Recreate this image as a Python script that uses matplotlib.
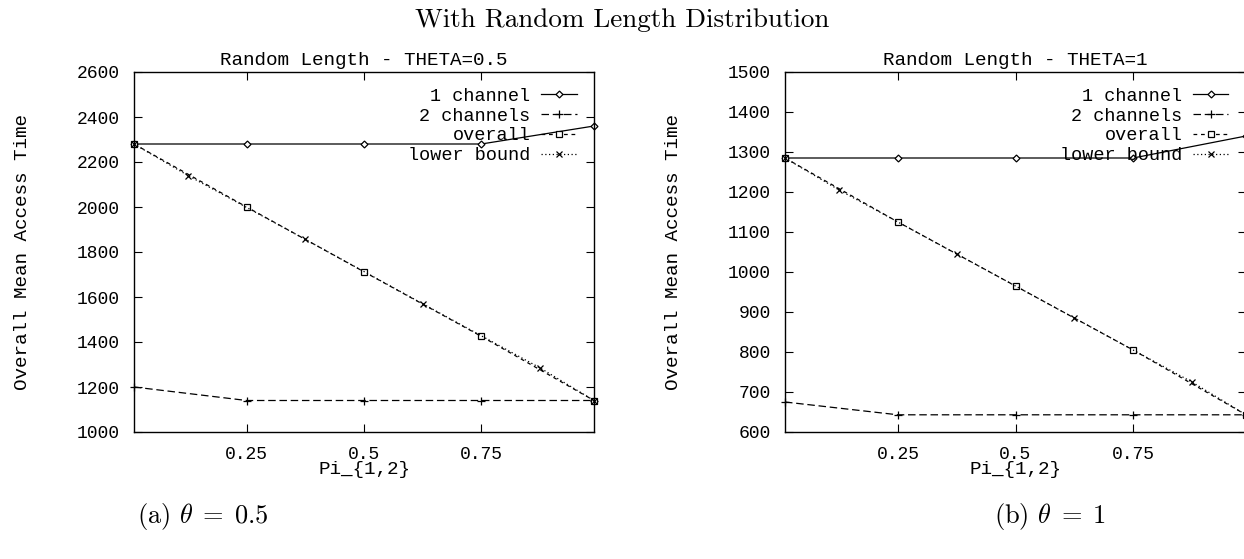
import matplotlib
matplotlib.use("Agg")
import matplotlib.pyplot as plt

# data
x_main = [0.01, 0.25, 0.5, 0.75, 0.99]
x_bound = [0.01, 0.125, 0.375, 0.625, 0.875, 0.99]

one_ch_a = [2280, 2280, 2280, 2280, 2360]
two_ch_a = [1200, 1140, 1140, 1140, 1140]
overall_a = [2280, 2000, 1712, 1425, 1140]
bound_a = [2280, 2140, 1856, 1570, 1285, 1140]

one_ch_b = [1285, 1285, 1285, 1285, 1340]
two_ch_b = [675, 643, 643, 643, 643]
overall_b = [1285, 1125, 965, 805, 643]
bound_b = [1285, 1205, 1045, 885, 725, 643]

labels = ["1 channel", "2 channels", "overall", "lower bound"]
x_ticks = [0.25, 0.5, 0.75]
x_tick_labels = ["0.25", "0.5", "0.75"]
y_ticks_a = [1000, 1200, 1400, 1600, 1800, 2000, 2200, 2400, 2600]
y_ticks_b = [600, 700, 800, 900, 1000, 1100, 1200, 1300, 1400, 1500]

mono = "Liberation Mono"
fs_tick = 13
fs_leg = 13.3
fs_lab = 13.9

fig = plt.figure(figsize=(12.44, 5.59), dpi=100)
W, H = 1244, 559


def px_axes(x0, x1, y0, y1):
    return fig.add_axes([x0 / W, 1 - y1 / H, (x1 - x0) / W, (y1 - y0) / H])


def draw(ax, one, two, overall, bound, yticks, title):
    ax.plot(x_main, one, color="black", lw=0.9, ls="-", marker="D", ms=3.5,
            mfc="white", mew=0.9, label=labels[0], clip_on=False)
    ax.plot(x_main, two, color="black", lw=0.9, ls=(0, (6, 3)), marker="+", ms=6,
            mew=0.9, label=labels[1], clip_on=False)
    ax.plot(x_main, overall, color="black", lw=0.9, ls=(0, (3, 3)), marker="s", ms=5,
            mfc="white", mew=0.9, label=labels[2], clip_on=False)
    ax.plot(x_bound, bound, color="black", lw=0.9, ls=(0, (1, 2)), marker="x", ms=5,
            mew=0.9, label=labels[3], clip_on=False)
    ax.set_xlim(0.01, 0.99)
    ax.set_ylim(yticks[0], yticks[-1])
    ax.set_xticks(x_ticks)
    ax.set_xticklabels(x_tick_labels, family=mono, fontsize=fs_tick)
    ax.set_yticks(yticks)
    ax.set_yticklabels([str(v) for v in yticks], family=mono, fontsize=fs_tick)
    ax.tick_params(direction="in", top=True, right=True, length=6, width=0.8, pad=10)
    for s in ax.spines.values():
        s.set_linewidth(1.0)
    ax.set_title(title, family=mono, fontsize=fs_lab, pad=5)
    ax.set_xlabel("Pi_{1,2}", family=mono, fontsize=fs_lab, labelpad=-1)
    ax.set_ylabel("Overall Mean Access Time", family=mono, fontsize=fs_lab, labelpad=33)
    ax.legend(loc="upper right", bbox_to_anchor=(0.962, 0.956), frameon=False,
              markerfirst=False, handlelength=1.9, handletextpad=0.6,
              labelspacing=0.15, borderpad=0, borderaxespad=0,
              prop={"family": mono, "size": fs_leg})


ax1 = px_axes(134, 594, 72, 432)
draw(ax1, one_ch_a, two_ch_a, overall_a, bound_a, y_ticks_a, "Random Length - THETA=0.5")

ax2 = px_axes(785, 1246, 72, 432)
draw(ax2, one_ch_b, two_ch_b, overall_b, bound_b, y_ticks_b, "Random Length - THETA=1")

fig.text(0.5, 1 - 20 / H, "With Random Length Distribution", family="cmr10",
         fontsize=19.5, ha="center", va="center")
fig.text(203 / W, 1 - 517 / H, r"(a) $\theta\;=\;0.5$", family="cmr10",
         fontsize=19, ha="center", va="center", math_fontfamily="cm")
fig.text(1050 / W, 1 - 517 / H, r"(b) $\theta\;=\;1$", family="cmr10",
         fontsize=19, ha="center", va="center", math_fontfamily="cm")

fig.savefig("out.png", dpi=100)
